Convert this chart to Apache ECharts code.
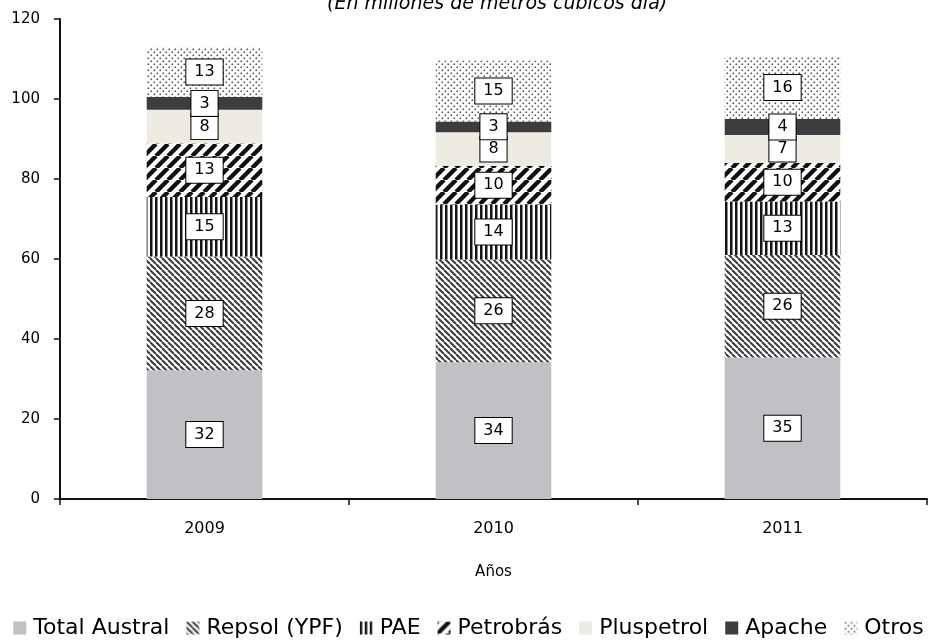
<!DOCTYPE html>
<html><head><meta charset="utf-8">
<script src="https://cdn.jsdelivr.net/npm/echarts@6/dist/echarts.min.js"></script>
<style>html,body{margin:0;padding:0;background:#fff}#c{width:937px;height:640px}</style>
</head><body><div id="c"></div>
<script>
// ---- data ----
const years = ['2009', '2010', '2011'];
const seriesNames = ['Total Austral', 'Repsol (YPF)', 'PAE', 'Petrobrás', 'Pluspetrol', 'Apache', 'Otros'];
const totalAustral = [32.2, 34.2, 35.4];
const repsol = [28.4, 25.7, 25.6];
const pae = [14.9, 13.7, 13.4];
const petrobras = [13.4, 9.7, 9.6];
const pluspetrol = [8.4, 8.4, 7.0];
const apache = [3.2, 2.7, 4.0];
const otros = [12.5, 15.2, 15.7];
const yMin = 0, yMax = 120, yStep = 20;
const titleText = '(En millones de metros cúbicos día)';
const xAxisName = 'Años';

// ---- patterns ----
function tile(w, h, draw) {
  const c = document.createElement('canvas');
  c.width = w; c.height = h;
  const g = c.getContext('2d');
  g.fillStyle = '#fff'; g.fillRect(0, 0, w, h);
  draw(g, w, h);
  return { image: c, repeat: 'repeat' };
}
const patRepsol = tile(6, 6, (g, w, h) => {
  g.strokeStyle = '#3a3a3a'; g.lineWidth = 2.0;
  for (let k = -1; k <= 1; k++) { g.beginPath(); g.moveTo(k * w, 0); g.lineTo(k * w + w, h); g.stroke(); }
});
const patPAE = tile(5, 4, (g, w, h) => {
  g.fillStyle = '#151515'; g.fillRect(0, 0, 2.5, h);
});
const patPetro = tile(12, 12, (g, w, h) => {
  g.strokeStyle = '#111'; g.lineWidth = 4.4;
  for (let k = -1; k <= 1; k++) { g.beginPath(); g.moveTo(k * w, h); g.lineTo(k * w + w, 0); g.stroke(); }
});
const patOtros = tile(6, 6, (g) => {
  g.fillStyle = '#555';
  g.fillRect(0.5, 0.5, 1.6, 1.6);
  g.fillRect(3.5, 3.5, 1.6, 1.6);
});

const seriesData = [totalAustral, repsol, pae, petrobras, pluspetrol, apache, otros];
const seriesColors = ['#c0c1c5', patRepsol, patPAE, patPetro, '#edebe2', '#3d3d3d', patOtros];
const FONT = 'DejaVu Sans';

const chart = echarts.init(document.getElementById('c'), null, { renderer: 'canvas' });
chart.setOption({
  animation: false,
  backgroundColor: '#fff',
  title: {
    text: titleText, left: 327, top: -5, padding: 0,
    textStyle: { fontFamily: FONT, fontStyle: 'italic', fontWeight: 'normal', fontSize: 19, color: '#000' }
  },
  grid: { left: 60, right: 10, top: 19, bottom: 141, containLabel: false },
  legend: {
    top: 612, left: 'center', icon: 'rect', itemWidth: 13, itemHeight: 13, itemGap: 17,
    textStyle: { fontFamily: FONT, fontSize: 22, color: '#000', padding: [0, 0, 0, 2] },
    data: seriesNames
  },
  xAxis: {
    type: 'category', data: years,
    name: xAxisName, nameLocation: 'middle', nameGap: 66,
    nameTextStyle: { fontFamily: FONT, fontSize: 15, color: '#000' },
    axisLine: { lineStyle: { color: '#111', width: 2 } },
    axisTick: { show: true, length: 6, lineStyle: { color: '#111', width: 1.5 } },
    axisLabel: { fontFamily: FONT, fontSize: 16, color: '#000', margin: 22 }
  },
  yAxis: {
    type: 'value', min: yMin, max: yMax, interval: yStep,
    axisLine: { show: true, lineStyle: { color: '#111', width: 2 } },
    axisTick: { show: true, length: 6, lineStyle: { color: '#111', width: 1.5 } },
    splitLine: { show: false },
    axisLabel: { fontFamily: FONT, fontSize: 15, color: '#000', margin: 20 }
  },
  series: seriesNames.map((n, i) => ({
    name: n, type: 'bar', stack: 'total', barWidth: '40%',
    data: seriesData[i],
    itemStyle: { color: seriesColors[i] },
    label: {
      show: true, position: 'inside',
      formatter: p => String(Math.round(p.value)),
      fontFamily: FONT, fontSize: 16, color: '#000',
      backgroundColor: '#fff', borderColor: '#000', borderWidth: 1,
      padding: [5, 8, 4, 8]
    },
    emphasis: { disabled: true }
  }))
});
</script></body></html>
